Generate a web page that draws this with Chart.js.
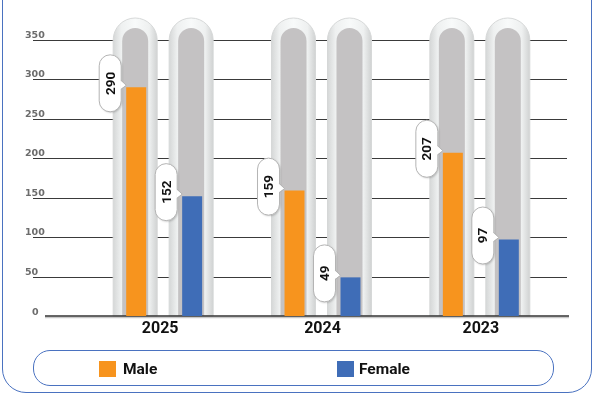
<!DOCTYPE html>
<html>
<head>
<meta charset="utf-8">
<script src="https://cdn.jsdelivr.net/npm/chart.js@4.4.1/dist/chart.umd.min.js"></script>
<style>
  html, body { margin: 0; padding: 0; background: #fff; }
  #wrap { position: relative; width: 593px; height: 394px; overflow: hidden; }
  #frame {
    position: absolute; left: 2px; top: -24px; width: 590px; height: 417px;
    box-sizing: border-box; border: 1.5px solid #4a72c0; border-radius: 24px;
  }
  #chart { position: absolute; left: 0; top: 0; }
  #legend {
    position: absolute; left: 33px; top: 350px; width: 521px; height: 36px;
    box-sizing: border-box; border: 1.5px solid #4a72c0; border-radius: 17px;
  }
  .sw { position: absolute; top: 10px; width: 17px; height: 16px; }
  .lb {
    position: absolute; top: 9px; line-height: 20px;
    font: bold 15.5px Roboto, sans-serif; color: #111;
  }
</style>
</head>
<body>
<div id="wrap">
  <div id="frame"></div>
  <canvas id="chart" width="593" height="394"></canvas>
  <div id="legend"></div>
</div>
<script>
// ------------------------------------------------------------
// Data
// ------------------------------------------------------------
const years = ['2025', '2024', '2023'];
const maleCounts = [290, 159, 207];
const femaleCounts = [152, 49, 97];
const yTicks = [0, 50, 100, 150, 200, 250, 300, 350];
const seriesNames = ['Male', 'Female'];
const seriesColors = ['#f7941e', '#3f6db7'];

// ------------------------------------------------------------
// Plugins: grid + tubes behind the bars, callouts and year labels on top
// ------------------------------------------------------------
const tubes = {
  id: 'tubes',
  beforeDatasetsDraw(chart) {
    const { ctx, chartArea: a, scales: { y } } = chart;
    const base = y.getPixelForValue(0);
    ctx.save();

    // horizontal rules + tick text sitting above each rule
    ctx.strokeStyle = '#3a3a3a';
    ctx.lineWidth = 1;
    ctx.font = 'bold 9.5px "DejaVu Sans"';
    ctx.fillStyle = '#6c6c6c';
    ctx.textBaseline = 'alphabetic';
    yTicks.forEach(v => {
      const py = Math.round(y.getPixelForValue(v)) + 0.5;
      if (v > 0) {
        ctx.beginPath();
        ctx.moveTo(a.left - 52, py);
        ctx.lineTo(a.right + 7, py);
        ctx.stroke();
      }
      ctx.fillText(String(v), v === 0 ? a.left - 53 : a.left - 60, py - (v === 0 ? 1.5 : 3));
    });

    // glass tubes around every bar
    const top = a.top - 22;
    chart.data.datasets.forEach((ds, i) => {
      chart.getDatasetMeta(i).data.forEach(bar => {
        const cx = bar.x - 1;
        const g = ctx.createLinearGradient(cx - 22, 0, cx + 22, 0);
        g.addColorStop(0, '#d5d7d7');
        g.addColorStop(0.18, '#eef0f0');
        g.addColorStop(0.5, '#f8fafa');
        g.addColorStop(0.82, '#eef0f0');
        g.addColorStop(1, '#d0d2d2');
        ctx.beginPath();
        ctx.roundRect(cx - 22, top, 44, base - top, [22, 22, 0, 0]);
        ctx.fillStyle = g;
        ctx.fill();
        ctx.strokeStyle = '#d6d8d8';
        ctx.stroke();

        ctx.beginPath();
        ctx.roundRect(cx - 13, top + 10, 26, base - top - 10, [13, 13, 0, 0]);
        ctx.fillStyle = '#c4c2c3';
        ctx.fill();
      });
    });

    // base line
    ctx.strokeStyle = '#c8c8c8';
    ctx.lineWidth = 1.5;
    ctx.beginPath();
    ctx.moveTo(a.left - 40, base + 1.5);
    ctx.lineTo(a.right + 9, base + 1.5);
    ctx.stroke();
    ctx.strokeStyle = '#333';
    ctx.beginPath();
    ctx.moveTo(a.left - 40, base);
    ctx.lineTo(a.right + 9, base);
    ctx.stroke();
    ctx.restore();
  }
};

const callouts = {
  id: 'callouts',
  afterDatasetsDraw(chart) {
    const { ctx } = chart;
    ctx.save();
    chart.data.datasets.forEach((ds, i) => {
      chart.getDatasetMeta(i).data.forEach((bar, j) => {
        const left = bar.x - bar.width / 2;
        const cy = bar.y - 4;
        const bw = 22, bh = 57;
        const bx = left - 27;

        ctx.save();
        ctx.shadowColor = 'rgba(0,0,0,0.2)';
        ctx.shadowBlur = 2;
        ctx.shadowOffsetX = 1;
        ctx.shadowOffsetY = 1;
        ctx.beginPath();
        ctx.roundRect(bx, cy - bh / 2, bw, bh, 11);
        ctx.fillStyle = '#fff';
        ctx.fill();
        ctx.restore();
        ctx.strokeStyle = '#b4b4b4';
        ctx.lineWidth = 1;
        ctx.stroke();

        // little pointer toward the top of the bar
        const py = bar.y - 2;
        ctx.beginPath();
        ctx.moveTo(bx + bw - 1, py - 5);
        ctx.lineTo(left, py);
        ctx.lineTo(bx + bw - 1, py + 4);
        ctx.closePath();
        ctx.fillStyle = '#fff';
        ctx.fill();
        ctx.beginPath();
        ctx.moveTo(bx + bw, py - 5);
        ctx.lineTo(left, py);
        ctx.lineTo(bx + bw, py + 4);
        ctx.stroke();

        ctx.save();
        ctx.translate(bx + bw / 2, cy);
        ctx.rotate(-Math.PI / 2);
        ctx.font = 'bold 13.5px Roboto';
        ctx.fillStyle = '#111';
        ctx.textAlign = 'center';
        ctx.textBaseline = 'middle';
        ctx.fillText(String(ds.data[j]), 0, 1);
        ctx.restore();
      });
    });
    ctx.restore();
  },
  afterDraw(chart) {
    const { ctx, scales: { x, y } } = chart;
    ctx.save();
    ctx.font = 'bold 16px Roboto';
    ctx.fillStyle = '#111';
    ctx.textAlign = 'center';
    ctx.textBaseline = 'middle';
    years.forEach((yr, i) => {
      ctx.fillText(yr, x.getPixelForValue(i) - (i === 0 ? 4 : 0), y.getPixelForValue(0) + 13);
    });
    ctx.restore();
  }
};

// ------------------------------------------------------------
// Legend
// ------------------------------------------------------------
const legendX = [[65, 89], [303, 325]];
const legend = document.getElementById('legend');
seriesNames.forEach((name, i) => {
  const sw = document.createElement('div');
  sw.className = 'sw';
  sw.style.left = legendX[i][0] + 'px';
  sw.style.background = seriesColors[i];
  const lb = document.createElement('div');
  lb.className = 'lb';
  lb.style.left = legendX[i][1] + 'px';
  lb.textContent = name;
  legend.appendChild(sw);
  legend.appendChild(lb);
});

// ------------------------------------------------------------
// Chart
// ------------------------------------------------------------
function build() {
  new Chart(document.getElementById('chart'), {
    type: 'bar',
    data: {
      labels: years,
      datasets: [
        { label: seriesNames[0], data: maleCounts, backgroundColor: seriesColors[0] },
        { label: seriesNames[1], data: femaleCounts, backgroundColor: seriesColors[1] }
      ]
    },
    options: {
      responsive: false,
      animation: false,
      devicePixelRatio: 1,
      layout: { padding: { left: 85, right: 33, top: 40, bottom: 78 } },
      datasets: { bar: { barPercentage: 0.357, categoryPercentage: 0.707, borderWidth: 0 } },
      plugins: { legend: { display: false }, tooltip: { enabled: false } },
      scales: {
        x: { display: false },
        y: { display: false, min: 0, max: 350 }
      }
    },
    plugins: [tubes, callouts]
  });
}

Promise.all([
  document.fonts.load('bold 16px Roboto'),
  document.fonts.load('bold 9px "DejaVu Sans"')
]).then(build, build);
</script>
</body>
</html>
